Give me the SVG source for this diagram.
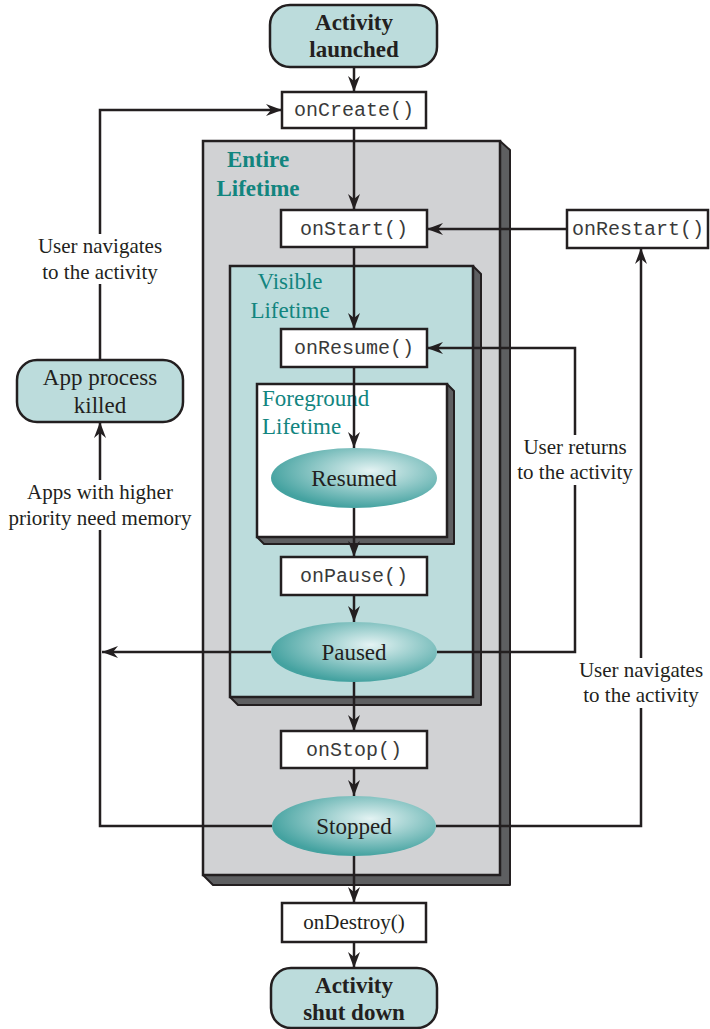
<svg xmlns="http://www.w3.org/2000/svg" width="710" height="1029" viewBox="0 0 710 1029">
<defs>
<style>
.ln{fill:none;stroke:#231f20;stroke-width:2.5}
.box{fill:#fff;stroke:#231f20;stroke-width:2.5}
.rnd{fill:#bcdcdc;stroke:#231f20;stroke-width:2.5}
.sh{fill:#5e5f61;stroke:#231f20;stroke-width:2;stroke-linejoin:round}
.mono{font-family:"Liberation Mono","Courier New",monospace;font-size:20px;fill:#3a3a3a;text-anchor:middle}
.serif{font-family:"Liberation Serif","Times New Roman",serif;fill:#231f20;text-anchor:middle}
.node{font-size:23px}
.bold{font-weight:bold}
.lbl{font-size:21px}
.teal{font-family:"Liberation Serif","Times New Roman",serif;fill:#12857f;font-size:23px}
</style>
<marker id="ah" markerWidth="16" markerHeight="12" refX="16" refY="6" orient="auto" markerUnits="userSpaceOnUse">
<path d="M0,0 L16,6 L0,12 L5,6 z" fill="#231f20"/>
</marker>
<radialGradient id="eg" cx="0.6" cy="0.38" r="0.62">
<stop offset="0" stop-color="#e4f3f3"/>
<stop offset="1" stop-color="#44a2a0"/>
</radialGradient>
</defs>
<rect width="710" height="1029" fill="#fff"/>

<g id="entire-lifetime">
<polygon class="sh" points="500,141 510,150 510,885 213,885 203,875 500,875"/>
<rect x="203" y="141" width="297" height="734" fill="#d1d2d4" stroke="#231f20" stroke-width="2.5"/>
<text class="teal" font-weight="bold" text-anchor="middle" x="258" y="167">Entire</text>
<text class="teal" font-weight="bold" text-anchor="middle" x="258" y="196">Lifetime</text>
</g>
<g id="visible-lifetime">
<polygon class="sh" points="473,266 481,274 481,705 238,705 230,697 473,697"/>
<rect x="230" y="266" width="243" height="431" fill="#bcdcdc" stroke="#231f20" stroke-width="2.5"/>
<text class="teal" text-anchor="middle" x="290" y="289">Visible</text>
<text class="teal" text-anchor="middle" x="290" y="318">Lifetime</text>
</g>
<g id="foreground-lifetime">
<polygon class="sh" points="447,384 454,391 454,544 264,544 257,537 447,537"/>
<rect x="257" y="384" width="190" height="153" fill="#fff" stroke="#231f20" stroke-width="2.5"/>
<text class="teal" x="262" y="406">Foreground</text>
<text class="teal" x="262" y="434">Lifetime</text>
</g>

<g id="connectors">
<line class="ln" x1="354" y1="67" x2="354" y2="92" marker-end="url(#ah)"/>
<line class="ln" x1="354" y1="128" x2="354" y2="210" marker-end="url(#ah)"/>
<line class="ln" x1="354" y1="247" x2="354" y2="329" marker-end="url(#ah)"/>
<line class="ln" x1="354" y1="367" x2="354" y2="448" marker-end="url(#ah)"/>
<line class="ln" x1="354" y1="508" x2="354" y2="557" marker-end="url(#ah)"/>
<line class="ln" x1="354" y1="595" x2="354" y2="622" marker-end="url(#ah)"/>
<line class="ln" x1="354" y1="682" x2="354" y2="731" marker-end="url(#ah)"/>
<line class="ln" x1="354" y1="768" x2="354" y2="796" marker-end="url(#ah)"/>
<line class="ln" x1="354" y1="856" x2="354" y2="903" marker-end="url(#ah)"/>
<line class="ln" x1="354" y1="942" x2="354" y2="968" marker-end="url(#ah)"/>
<line class="ln" x1="567" y1="229" x2="427" y2="229" marker-end="url(#ah)"/>
<polyline class="ln" points="437,652 575,652 575,348 427,348" marker-end="url(#ah)"/>
<polyline class="ln" points="436,826 641,826 641,248" marker-end="url(#ah)"/>
<line class="ln" x1="271" y1="652" x2="102" y2="652" marker-end="url(#ah)"/>
<polyline class="ln" points="272,826 100,826 100,422" marker-end="url(#ah)"/>
<polyline class="ln" points="100,360 100,110 282,110" marker-end="url(#ah)"/>
</g>

<g id="edge-labels">
<rect x="28" y="234" width="144" height="50" fill="#fff"/>
<text class="serif lbl" x="100" y="253">User navigates</text>
<text class="serif lbl" x="100" y="279">to the activity</text>
<rect x="10" y="480" width="182" height="50" fill="#fff"/>
<text class="serif lbl" x="100" y="499">Apps with higher</text>
<text class="serif lbl" x="100" y="525">priority need memory</text>
<rect x="513" y="435" width="124" height="50" fill="#fff"/>
<text class="serif lbl" x="575" y="454">User returns</text>
<text class="serif lbl" x="575" y="479">to the activity</text>
<rect x="572" y="658" width="138" height="50" fill="#fff"/>
<text class="serif lbl" x="641" y="677">User navigates</text>
<text class="serif lbl" x="641" y="702">to the activity</text>
</g>

<g id="activity-launched">
<rect class="rnd" x="270" y="5" width="167" height="62" rx="20"/>
<text class="serif node bold" x="354" y="30">Activity</text>
<text class="serif node bold" x="354" y="57">launched</text>
</g>
<g id="onCreate">
<rect class="box" x="282" y="92" width="144" height="36"/>
<text class="mono" x="354" y="116">onCreate()</text>
</g>
<g id="onStart">
<rect class="box" x="281" y="210" width="146" height="37"/>
<text class="mono" x="354" y="235">onStart()</text>
</g>
<g id="onRestart">
<rect class="box" x="567" y="210" width="141" height="38"/>
<text class="mono" x="638" y="235">onRestart()</text>
</g>
<g id="onResume">
<rect class="box" x="281" y="329" width="146" height="38"/>
<text class="mono" x="354" y="354">onResume()</text>
</g>
<g id="resumed">
<ellipse cx="354" cy="478" rx="83" ry="30" fill="url(#eg)"/>
<text class="serif node" x="354" y="486">Resumed</text>
</g>
<g id="onPause">
<rect class="box" x="281" y="557" width="146" height="38"/>
<text class="mono" x="354" y="582">onPause()</text>
</g>
<g id="paused">
<ellipse cx="354" cy="652" rx="83" ry="30" fill="url(#eg)"/>
<text class="serif node" x="354" y="660">Paused</text>
</g>
<g id="onStop">
<rect class="box" x="281" y="731" width="146" height="37"/>
<text class="mono" x="354" y="756">onStop()</text>
</g>
<g id="stopped">
<ellipse cx="354" cy="826" rx="82" ry="30" fill="url(#eg)"/>
<text class="serif node" x="354" y="834">Stopped</text>
</g>
<g id="onDestroy">
<rect class="box" x="282" y="903" width="144" height="39"/>
<text class="serif" font-size="21" x="354" y="929">onDestroy()</text>
</g>
<g id="activity-shut-down">
<rect class="rnd" x="271" y="968" width="166" height="60" rx="20"/>
<text class="serif node bold" x="354" y="993">Activity</text>
<text class="serif node bold" x="354" y="1020">shut down</text>
</g>
<g id="app-process-killed">
<rect class="rnd" x="17" y="360" width="166" height="62" rx="20"/>
<text class="serif node" x="100" y="385">App process</text>
<text class="serif node" x="100" y="413">killed</text>
</g>
</svg>
